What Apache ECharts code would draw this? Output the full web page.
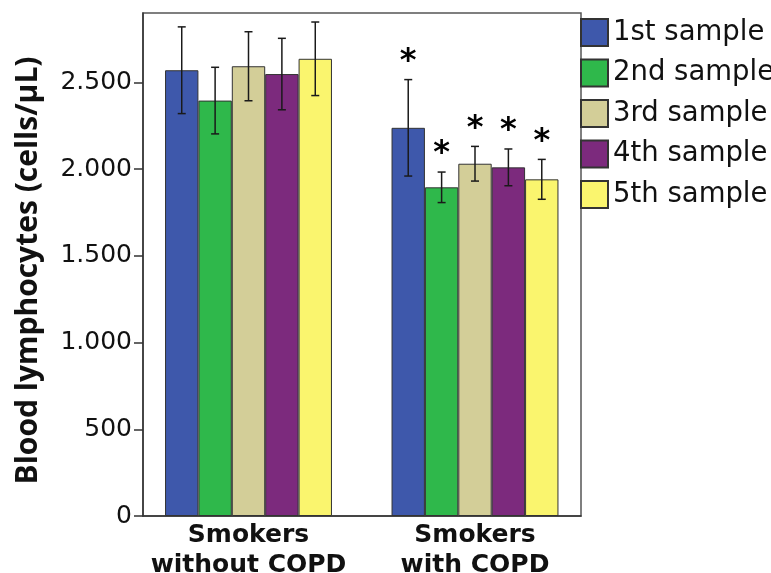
<!DOCTYPE html>
<html>
<head>
<meta charset="utf-8">
<script src="https://cdn.jsdelivr.net/npm/echarts@6/dist/echarts.min.js"></script>
<style>
html,body{margin:0;padding:0;background:#fff;}
#c{width:771px;height:573px;}
</style>
</head>
<body>
<div id="c"></div>
<script>
// ---- data ----
const categories = ['Smokers\nwithout COPD', 'Smokers\nwith COPD'];
const sampleNames = ['1st sample', '2nd sample', '3rd sample', '4th sample', '5th sample'];
const sample1 = [2570, 2238];
const sample2 = [2395, 1895];
const sample3 = [2593, 2031];
const sample4 = [2548, 2010];
const sample5 = [2636, 1941];
const err1 = [250, 278];
const err2 = [192, 88];
const err3 = [199, 100];
const err4 = [206, 106];
const err5 = [212, 115];
const signif = [[0, 1], [0, 1], [0, 1], [0, 1], [0, 1]];
const yTicks = [0, 500, 1000, 1500, 2000, 2500];
const yMin = 0, yMax = 2900;
const colors = ['#3E58AB', '#2FB84B', '#D3CE98', '#7C2A7D', '#FAF56E'];

const means = [sample1, sample2, sample3, sample4, sample5];
const errs = [err1, err2, err3, err4, err5];

const catGap = 0.263;
const fmt = v => {
  const s = String(v);
  return s.length > 3 ? s.slice(0, s.length - 3) + '.' + s.slice(-3) : s;
};

const errData = [];
for (let s = 0; s < 5; s++) {
  for (let c = 0; c < categories.length; c++) {
    errData.push([c, s, means[s][c], errs[s][c], signif[s][c]]);
  }
}

const chart = echarts.init(document.getElementById('c'), null, {renderer: 'canvas'});

const series = sampleNames.map((n, i) => ({
  name: n,
  type: 'bar',
  xAxisIndex: 1,
  yAxisIndex: 1,
  data: means[i],
  barGap: 0,
  barCategoryGap: (catGap * 100) + '%',
  itemStyle: {color: colors[i], borderColor: '#333', borderWidth: 1},
  emphasis: {disabled: true},
  animation: false
}));

series.push({
  type: 'custom',
  xAxisIndex: 1,
  yAxisIndex: 1,
  data: errData,
  encode: {x: 0, y: 2},
  silent: true,
  animation: false,
  z: 10,
  renderItem: function (params, api) {
    const c = api.value(0), s = api.value(1), m = api.value(2), e = api.value(3), sg = api.value(4);
    const band = api.size([1, 0])[0];
    const bw = band * (1 - catGap) / 5;
    const center = api.coord([c, m]);
    const x = center[0] + (s - 2) * bw;
    const yTop = api.coord([c, m + e])[1];
    const yBot = api.coord([c, m - e])[1];
    const hw = 4;
    const st = {stroke: '#1a1a1a', lineWidth: 1.5};
    const children = [
      {type: 'line', shape: {x1: x, y1: yTop, x2: x, y2: yBot}, style: st},
      {type: 'line', shape: {x1: x - hw, y1: yTop, x2: x + hw, y2: yTop}, style: st},
      {type: 'line', shape: {x1: x - hw, y1: yBot, x2: x + hw, y2: yBot}, style: st}
    ];
    if (sg) {
      children.push({
        type: 'text',
        style: {text: '*', x: x, y: yTop - 18, align: 'center', verticalAlign: 'middle',
          fontSize: 32, fontWeight: 'bold', fontFamily: 'DejaVu Sans', fill: '#000'}
      });
    }
    return {type: 'group', children: children};
  }
});

chart.setOption({
  animation: false,
  backgroundColor: '#fff',
  legend: {
    orient: 'vertical',
    left: 580,
    top: 18,
    padding: 0,
    itemWidth: 27,
    itemHeight: 27,
    itemGap: 11.5,
    icon: 'rect',
    selectedMode: false,
    data: sampleNames,
    textStyle: {fontFamily: 'DejaVu Sans', fontSize: 27.5, color: '#111'}
  },
  grid: [
    {left: 143, right: 190, top: 13, bottom: 57, show: true, borderColor: '#555', borderWidth: 1.5, backgroundColor: 'transparent', containLabel: false, outerBoundsMode: 'none'},
    {left: 135.25, right: 182.75, top: 13, bottom: 57, containLabel: false, outerBoundsMode: 'none'}
  ],
  xAxis: [
    {type: 'category', gridIndex: 0, data: [''],
      axisLine: {show: true, lineStyle: {color: '#333', width: 1.5}},
      axisTick: {show: false}, axisLabel: {show: false}},
    {type: 'category', gridIndex: 1, data: categories,
      axisLine: {show: false}, axisTick: {show: false},
      axisLabel: {interval: 0, hideOverlap: false, fontFamily: 'DejaVu Sans', fontWeight: 'bold', fontSize: 25, color: '#111', lineHeight: 30, margin: 4}}
  ],
  yAxis: [
    {type: 'value', gridIndex: 0, min: yMin, max: yMax,
      name: 'Blood lymphocytes (cells/µL)', nameLocation: 'middle', nameGap: 100,
      nameTextStyle: {fontFamily: 'Open Sans', fontWeight: 'bold', fontSize: 30, color: '#111', padding: [0, 12, 0, 0]},
      axisLine: {show: true, lineStyle: {color: '#333', width: 1.5}},
      axisTick: {show: true, inside: false, length: 9, lineStyle: {color: '#333', width: 1.5}, customValues: yTicks},
      axisLabel: {customValues: yTicks, formatter: fmt, fontFamily: 'DejaVu Sans', fontSize: 25, color: '#111', margin: 11},
      splitLine: {show: false}},
    {type: 'value', gridIndex: 1, min: yMin, max: yMax, show: false, splitLine: {show: false}}
  ],
  series: series
});
</script>
</body>
</html>
